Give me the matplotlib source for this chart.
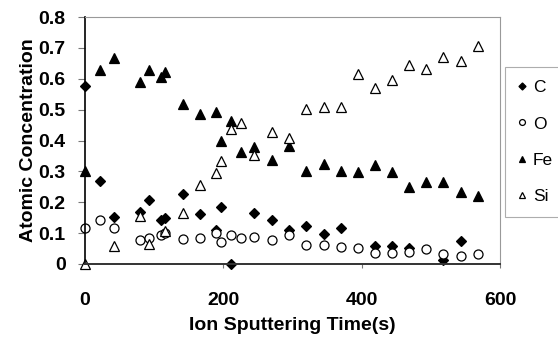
import matplotlib
matplotlib.use("Agg")
import matplotlib.pyplot as plt

plt.rcParams['font.family'] = ['Liberation Sans', 'DejaVu Sans']

c_t = [0, 22, 42, 80, 92, 110, 116, 142, 166, 190, 196, 211, 245, 270, 295, 320, 345, 370, 419, 444, 468, 518, 543]
c_v = [0.575, 0.27, 0.153, 0.17, 0.207, 0.142, 0.149, 0.227, 0.162, 0.11, 0.183, 0.0, 0.164, 0.142, 0.11, 0.124,
       0.096, 0.116, 0.059, 0.059, 0.051, 0.012, 0.073]

o_t = [0, 22, 42, 80, 92, 110, 116, 142, 166, 190, 196, 211, 226, 245, 270, 295, 320, 345, 370, 394, 419, 444,
       468, 493, 518, 543, 568]
o_v = [0.115, 0.143, 0.118, 0.077, 0.083, 0.094, 0.10, 0.08, 0.083, 0.099, 0.072, 0.093, 0.083, 0.089, 0.077,
       0.093, 0.061, 0.061, 0.056, 0.051, 0.037, 0.035, 0.04, 0.048, 0.034, 0.026, 0.031]

fe_t = [0, 22, 42, 80, 92, 110, 116, 142, 166, 190, 196, 211, 226, 245, 270, 295, 320, 345, 370, 394, 419, 444,
        468, 493, 518, 543, 568]
fe_v = [0.30, 0.628, 0.666, 0.59, 0.628, 0.606, 0.622, 0.517, 0.485, 0.492, 0.398, 0.463, 0.362, 0.38, 0.338,
        0.381, 0.302, 0.324, 0.30, 0.297, 0.321, 0.299, 0.251, 0.264, 0.264, 0.232, 0.221]

si_t = [0, 42, 80, 92, 116, 142, 166, 190, 196, 211, 226, 245, 270, 295, 320, 345, 370, 394, 419, 444, 468, 493,
        518, 543, 568]
si_v = [0.0, 0.059, 0.154, 0.066, 0.107, 0.165, 0.257, 0.295, 0.333, 0.438, 0.456, 0.354, 0.429, 0.409, 0.503,
        0.508, 0.51, 0.617, 0.571, 0.595, 0.644, 0.633, 0.671, 0.657, 0.706]

x_ticks = [0, 200, 400, 600]
y_ticks = [0, 0.1, 0.2, 0.3, 0.4, 0.5, 0.6, 0.7, 0.8]
y_ticklabels = ['0', '0.1', '0.2', '0.3', '0.4', '0.5', '0.6', '0.7', '0.8']

fig = plt.figure(figsize=(5.58, 3.37), dpi=100)
ax = fig.add_axes([85 / 558, 1 - 264 / 337, 415 / 558, 247 / 337])

ms = 6.5
kw = dict(linestyle='none', clip_on=False, markeredgewidth=0.9)
ax.plot(c_t, c_v, marker='D', color='black', markersize=ms * 0.85, label='C', **kw)
ax.plot(o_t, o_v, marker='o', markerfacecolor='white', markeredgecolor='black', markersize=ms, label='O', **kw)
ax.plot(fe_t, fe_v, marker='^', color='black', markersize=ms + 0.5, label='Fe', **kw)
ax.plot(si_t, si_v, marker='^', markerfacecolor='white', markeredgecolor='black', markersize=ms + 0.5,
        label='Si', **kw)

ax.set_xlim(0, 600)
ax.set_ylim(0, 0.8)
ax.set_xticks(x_ticks)
ax.set_xticklabels([str(v) for v in x_ticks])
ax.set_yticks(y_ticks)
ax.set_yticklabels(y_ticklabels)

for lab in ax.get_xticklabels() + ax.get_yticklabels():
    lab.set_fontweight('bold')
    lab.set_fontsize(14)
ax.tick_params(axis='y', direction='out', length=5, width=0.8, color='#777777', pad=9)
ax.tick_params(axis='x', direction='out', length=3, width=0.8, color='#777777', pad=17)

for s in ['top', 'right']:
    ax.spines[s].set_color('#999999')
    ax.spines[s].set_linewidth(0.8)
ax.spines['left'].set_color('black')
ax.spines['left'].set_linewidth(1.2)
ax.spines['bottom'].set_color('#333333')
ax.spines['bottom'].set_linewidth(1.4)

ax.set_xlabel('Ion Sputtering Time(s)', fontsize=14, fontweight='bold', labelpad=6)
ax.set_ylabel('Atomic Concentration', fontsize=14, fontweight='bold', labelpad=1)

leg = fig.legend(loc='upper left', bbox_to_anchor=(505 / 558, 1 - 67 / 337), bbox_transform=fig.transFigure,
                 frameon=True, fancybox=False, edgecolor='#999999', fontsize=12.5, markerscale=0.65,
                 handlelength=0.5, handletextpad=0.35, labelspacing=1.22, borderpad=0.75, borderaxespad=0)
leg.get_frame().set_linewidth(0.8)

fig.savefig('out.png', dpi=100)
